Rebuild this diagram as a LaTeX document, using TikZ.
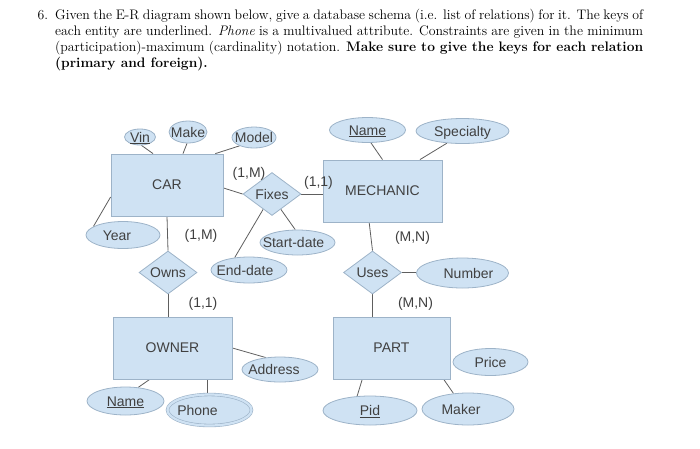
\documentclass[tikz,border=0pt]{standalone}
\usepackage{fontspec}
\usepackage{xcolor}
\usetikzlibrary{shapes.geometric, backgrounds}
\newfontfamily\erfont{Liberation Sans}
\definecolor{erfill}{HTML}{CFE2F3}
\definecolor{erline}{HTML}{9DB3C8}
\definecolor{ertext}{HTML}{404040}
\definecolor{erlink}{HTML}{5E5E5E}
% text of an attribute does not size its ellipse
\newcommand{\attxt}[1]{\makebox[0pt]{\raisebox{-0.36em}[0pt][0pt]{#1}}}
\tikzstyle{entity} = [rectangle, minimum height=62pt, draw=erline, fill=erfill, text=ertext, inner sep=0pt, line width=0.8pt]
\tikzstyle{attrib} = [ellipse, draw=erline, fill=erfill, text=ertext, inner sep=0pt, line width=0.8pt]
\tikzstyle{relship} = [diamond, aspect=1.35, minimum width=58pt, minimum height=43pt, draw=erline, fill=erfill, text=ertext, inner sep=0pt, line width=0.8pt]
\tikzstyle{card} = [text=ertext, inner sep=0pt]
\tikzstyle{erconn} = [draw=erlink, line width=0.8pt]

\begin{document}
\begin{tikzpicture}[x=1pt, y=-1pt, every node/.style={font=\erfont\fontsize{14}{16}\selectfont}]
\useasboundingbox (0,0) rectangle (700,448);

% --------- Question ----------
\node (TASK) [anchor=north west, text width=588pt, align=justify, inner sep=0pt,
              font=\rmfamily\fontsize{13.8}{16.2}\selectfont] at (55,8.5)
  {\llap{6.\hspace{7pt}}Given the E-R diagram shown below, give a database schema (i.e. list of relations) for it. The keys of\linebreak
   each entity are underlined. \emph{Phone} is a multivalued attribute. Constraints are given in the minimum\linebreak
   (participation)-maximum (cardinality) notation. \textbf{Make sure to give the keys for each relation\linebreak
   (primary and foreign).}};

% --------- Entities ----------
\node (CAR)   [entity, minimum width=112pt] at (167,185)   {CAR};
\node (MECH)  [entity, minimum width=119pt] at (382.5,191) {MECHANIC};
\node (OWNER) [entity, minimum width=119pt] at (172.5,348) {OWNER};
\node (PART)  [entity, minimum width=117pt] at (391.5,348) {PART};

% --------- Relationships ----------
\node (FIXES) [relship] at (272,194)     {Fixes};
\node (OWNS)  [relship] at (168,272.5)   {Owns};
\node (USES)  [relship] at (372.5,272.5) {Uses};

% --------- Attributes ----------
\node (VIN)       [attrib, minimum width=31pt, minimum height=16pt] at (140,137)     {\attxt{\underline{Vin}}};
\node (MAKE)      [attrib, minimum width=38pt, minimum height=22pt] at (188,132)     {\attxt{Make}};
\node (MODEL)     [attrib, minimum width=44pt, minimum height=21pt] at (254,137.5)   {\attxt{Model}};
\node (YEAR)      [attrib, minimum width=74pt, minimum height=27pt] at (123,235)     {\attxt{Year\hspace{12pt}}};
\node (NAMEM)     [attrib, minimum width=76pt, minimum height=25pt] at (367.5,130)   {\attxt{\underline{Name}}};
\node (SPEC)      [attrib, minimum width=93pt, minimum height=25pt] at (462.5,131)   {\attxt{Specialty}};
\node (ENDDATE)   [attrib, minimum width=76pt, minimum height=26pt] at (249,270)     {\attxt{End-date\hspace{8pt}}};
\node (STARTDATE) [attrib, minimum width=75pt, minimum height=25pt] at (297.5,242.5) {\attxt{Start-date\hspace{8pt}}};
\node (NUMBER)    [attrib, minimum width=92pt, minimum height=30pt] at (462.5,273)   {\attxt{\hspace{12pt}Number}};
\node (ADDRESS)   [attrib, minimum width=76pt, minimum height=25pt] at (280,369.5)   {\attxt{Address\hspace{12pt}}};
\node (NAMEO)     [attrib, minimum width=77pt, minimum height=28pt] at (125.5,401)   {\attxt{\underline{Name}}};
\node (PHONE)     [attrib, minimum width=84pt, minimum height=31pt, line width=0.6pt,
                   double=erfill, double distance=2.2pt] at (209.5,410) {\attxt{Phone\hspace{24pt}}};
\node (PID)       [attrib, minimum width=94pt, minimum height=29pt] at (370,410.5)   {\attxt{\underline{Pid}}};
\node (MAKER)     [attrib, minimum width=92pt, minimum height=32pt] at (468,409)     {\attxt{Maker\hspace{14pt}}};
\node (PRICE)     [attrib, minimum width=75pt, minimum height=27pt] at (490.5,362)   {\attxt{Price}};

% --------- Cardinalities ----------
\node (FIXES_CAR)  [card] at (249,174)     {(1,M)};
\node (FIXES_MECH) [card] at (318.5,182.5) {(1,1)};
\node (OWNS_CAR)   [card] at (201,236)     {(1,M)};
\node (OWNS_OWNER) [card] at (203,303.5)   {(1,1)};
\node (USES_MECH)  [card] at (412.5,237.5) {(M,N)};
\node (USES_PART)  [card] at (415.5,303.5) {(M,N)};

% --------- Edges ----------
\begin{scope}[on background layer]
\draw [erconn] (VIN.-80) -- (CAR.114);
\draw [erconn] (MAKE.-95) -- (CAR.63);
\draw [erconn] (MODEL.210) -- (CAR.33);
\draw [erconn] (YEAR.164) -- (CAR.192);
\draw [erconn] (CAR.-3) -- (FIXES.west);
\draw [erconn] (FIXES.east) -- (FIXES.east -| MECH.west);
\draw [erconn] (FIXES.240) -- (ENDDATE.139);
\draw [erconn] (FIXES.300) -- (STARTDATE.100);
\draw [erconn] (CAR.south) -- (OWNS.north);
\draw [erconn] (OWNS.south) -- (OWNS.south |- OWNER.north);
\draw [erconn] (NAMEM.-75) -- (MECH.north);
\draw [erconn] (SPEC.218) -- (MECH.40);
\draw [erconn] (MECH.247) -- (USES.north);
\draw [erconn] (USES.east) -- (USES.east -| NUMBER.west);
\draw [erconn] (USES.south) -- (USES.south |- PART.north);
\draw [erconn] (OWNER.east) -- (ADDRESS.140);
\draw [erconn] (OWNER.234) -- (NAMEO.47);
\draw [erconn] (PHONE.97 |- OWNER.south) -- (PHONE.97);
\draw [erconn] (PART.227) -- (PID.132);
\draw [erconn] (PART.-31) -- (MAKER.133);
\end{scope}

\end{tikzpicture}
\end{document}
